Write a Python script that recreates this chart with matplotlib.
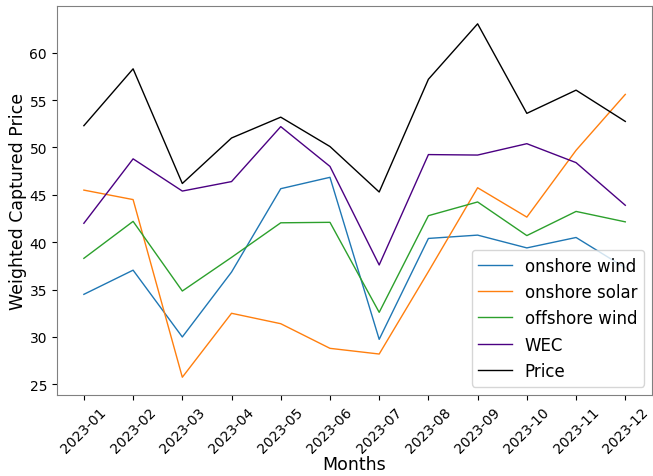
import matplotlib
matplotlib.use("Agg")
import matplotlib.pyplot as plt

months = ["2023-01", "2023-02", "2023-03", "2023-04", "2023-05", "2023-06",
          "2023-07", "2023-08", "2023-09", "2023-10", "2023-11", "2023-12"]

onshore_wind = [34.5, 37.05, 30.0, 36.85, 45.65, 46.85, 29.75, 40.4, 40.75, 39.4, 40.5, 37.3]
onshore_solar = [45.5, 44.5, 25.75, 32.5, 31.4, 28.8, 28.2, 36.9, 45.75, 42.65, 49.7, 55.6]
offshore_wind = [38.3, 42.2, 34.85, 38.4, 42.05, 42.1, 32.6, 42.8, 44.25, 40.7, 43.25, 42.15]
wec = [42.0, 48.8, 45.4, 46.4, 52.2, 48.0, 37.6, 49.25, 49.2, 50.4, 48.4, 43.9]
price = [52.3, 58.3, 46.2, 51.0, 53.2, 50.1, 45.3, 57.2, 63.05, 53.6, 56.05, 52.75]

fig, ax = plt.subplots(figsize=(6.53, 4.77), dpi=100)
fig.subplots_adjust(left=0.087, right=0.999, top=0.985, bottom=0.17)

ax.plot(months, onshore_wind, label="onshore wind", color="tab:blue", linewidth=1)
ax.plot(months, onshore_solar, label="onshore solar", color="tab:orange", linewidth=1)
ax.plot(months, offshore_wind, label="offshore wind", color="tab:green", linewidth=1)
ax.plot(months, wec, label="WEC", color="indigo", linewidth=1)
ax.plot(months, price, label="Price", color="black", linewidth=1)

ax.set_xlabel("Months", fontsize=12.5, labelpad=0)
ax.set_ylabel("Weighted Captured Price", fontsize=12.5, labelpad=2)
ax.tick_params(axis="both", labelsize=10)
plt.xticks(rotation=45)
ax.legend(fontsize=12, loc="lower right")

for spine in ax.spines.values():
    spine.set_color("grey")

plt.savefig("out.png")
